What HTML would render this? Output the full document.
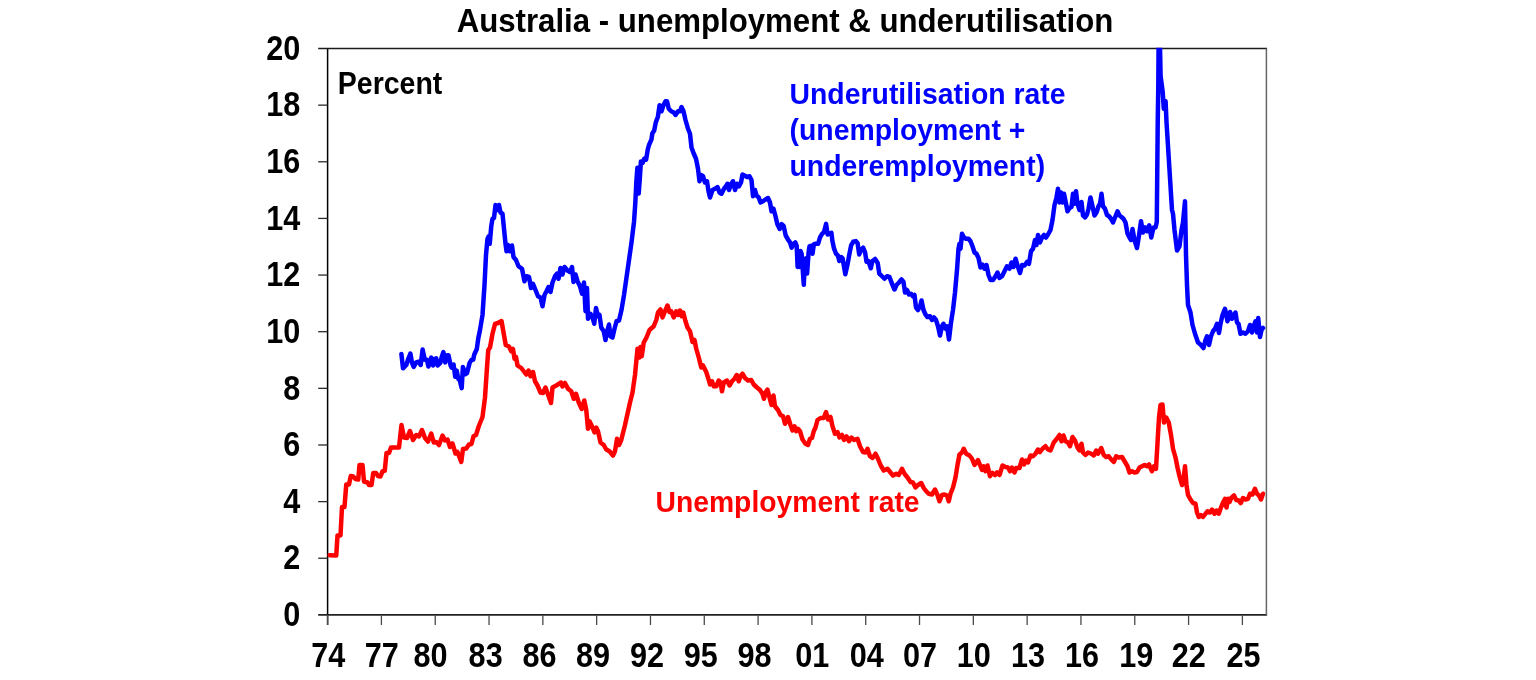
<!DOCTYPE html>
<html lang="en"><head><meta charset="utf-8"><title>Australia - unemployment &amp; underutilisation</title>
<style>
html,body{margin:0;padding:0;background:#fff;}
body{width:1536px;height:680px;overflow:hidden;}
svg{display:block;}
text{font-family:"Liberation Sans",sans-serif;font-weight:bold;}
</style></head><body>
<svg width="1536" height="680" viewBox="0 0 1536 680">
<rect width="1536" height="680" fill="#fff"/>
<defs><clipPath id="plot"><rect x="326" y="47.8" width="941" height="568"/></clipPath></defs>
<text transform="translate(785,32.1) scale(1,1.07)" font-size="31.2" text-anchor="middle" fill="#000">Australia - unemployment &amp; underutilisation</text>
<g stroke="#000" stroke-width="1.5" fill="none">
<line x1="327.6" y1="47.9" x2="327.6" y2="625"/>
<line x1="318.2" y1="614.9" x2="1267.1000000000001" y2="614.9" stroke-width="1.75" stroke="#222"/>
<line x1="318.2" y1="48.5" x2="1267.1000000000001" y2="48.5" stroke-width="1.35" stroke="#1a1a1a"/>
</g>
<g stroke="#2a2a2a" stroke-width="1.3" fill="none">
<line x1="318.2" y1="558.26" x2="327.6" y2="558.26"/>
<line x1="318.2" y1="501.62" x2="327.6" y2="501.62"/>
<line x1="318.2" y1="444.98" x2="327.6" y2="444.98"/>
<line x1="318.2" y1="388.34" x2="327.6" y2="388.34"/>
<line x1="318.2" y1="331.7" x2="327.6" y2="331.7"/>
<line x1="318.2" y1="275.06" x2="327.6" y2="275.06"/>
<line x1="318.2" y1="218.42" x2="327.6" y2="218.42"/>
<line x1="318.2" y1="161.78" x2="327.6" y2="161.78"/>
<line x1="318.2" y1="105.14" x2="327.6" y2="105.14"/>
</g>
<g stroke="#4a4a4a" stroke-width="1.3" fill="none">
<line x1="327.6" y1="614.9" x2="327.6" y2="625"/>
<line x1="381.411" y1="614.9" x2="381.411" y2="625"/>
<line x1="435.222" y1="614.9" x2="435.222" y2="625"/>
<line x1="489.033" y1="614.9" x2="489.033" y2="625"/>
<line x1="542.844" y1="614.9" x2="542.844" y2="625"/>
<line x1="596.655" y1="614.9" x2="596.655" y2="625"/>
<line x1="650.466" y1="614.9" x2="650.466" y2="625"/>
<line x1="704.277" y1="614.9" x2="704.277" y2="625"/>
<line x1="758.088" y1="614.9" x2="758.088" y2="625"/>
<line x1="811.899" y1="614.9" x2="811.899" y2="625"/>
<line x1="865.71" y1="614.9" x2="865.71" y2="625"/>
<line x1="919.521" y1="614.9" x2="919.521" y2="625"/>
<line x1="973.332" y1="614.9" x2="973.332" y2="625"/>
<line x1="1027.14" y1="614.9" x2="1027.14" y2="625"/>
<line x1="1080.95" y1="614.9" x2="1080.95" y2="625"/>
<line x1="1134.77" y1="614.9" x2="1134.77" y2="625"/>
<line x1="1188.58" y1="614.9" x2="1188.58" y2="625"/>
<line x1="1242.39" y1="614.9" x2="1242.39" y2="625"/>
</g>
<line x1="1266.4" y1="48.5" x2="1266.4" y2="614.9" stroke="#666" stroke-width="1.5"/>
<g clip-path="url(#plot)" fill="none" stroke-linejoin="round" stroke-linecap="round" stroke-width="4.5">
<polyline stroke="#0000ff" points="401.4,353.9 403,368.3 406.3,365 407.9,359.8 410.4,353.5 412,362.9 413.7,367 416.1,362.4 418.5,361.7 420.7,365 422.6,349.5 424.8,359.8 426.9,359.8 428.4,366.5 431.2,357.6 433.1,365.5 434.9,358.8 436.2,358.3 437.7,365.5 440.3,362.9 441.8,356.7 443.4,352.1 445.2,362.4 447,355.2 448.5,355.2 450.6,365.5 451.6,367.6 453.6,364.5 455.2,376.8 456.7,370.6 458.3,378.9 459.8,380.4 461.7,388.1 462.9,367 465.5,374.2 467,373.2 469.6,362.9 471.6,359.8 473.2,359.8 474.2,354.7 476.8,349 478.3,338.2 480,330 482.5,315 484.5,285 486,255 487.5,238.75 488.75,236.25 489.75,243.75 491.25,226.25 492.5,218.75 494,218 495.5,205 497.5,210 499,205 500.5,212.5 502.5,213.75 504,228.75 505.5,243.75 506.5,251.25 508,245 510,251.25 512,245.5 513.5,257 516,260 518.5,266.25 522,268.75 524.5,281.25 526.5,276.25 529,277 531,288 533,283.75 535.5,290 538,296.25 540.5,297.5 542.5,306.25 544.5,295 546.5,291.25 548.5,287 550.5,292 552.5,282.5 555,276.25 557,273.75 558.5,278.75 560.5,268 562.5,274.5 564.5,267 567.5,270.5 570,272 572,267 573.5,282 575.5,274.5 577.5,281.25 580,286.25 582,293.75 584,282.5 585.5,311.25 587,288 588,318.75 590.5,313.75 592.5,317.5 594.25,323.75 596,308 598,316.25 599.5,315 601.25,327.5 603.75,331.25 605.5,340 607.5,330 609,324.5 610.5,336.25 612.5,337.5 614.5,328.75 616.5,321.25 619,320.5 621.5,310 624,295 626.5,277.5 629,260 631.5,242.5 634,222 635.3,203 636.4,181 637.4,167.7 638.7,193.6 639.7,180 640.9,161.5 642.6,162.8 644.2,158.8 646.1,159.6 647.7,149.9 649,145 651.5,139.4 652.3,133.4 654.2,130.5 655.8,122.4 657.9,116.7 659.6,105.2 661.5,111.25 663.5,105 665.5,101.25 667,101.25 668.75,108.75 671.25,111.25 673.75,112.5 675.5,115 678,111.25 680,111.25 681.5,107 683.5,111.25 685.5,120 688,128.75 690,133.75 691.5,147.5 693.5,153 696,158.75 698,168.75 699.5,181.25 701,175 703,176.25 705,182.5 707,181.25 708.5,191.25 710,197.5 712.5,190 715,188.75 717.5,187 719.5,192.5 721.5,193.75 724,188.75 726,186.25 727.5,183.75 729,190 731,184.5 733,181.25 735,190 737,183.75 739,186.25 741,182.5 742.5,174.5 744.5,175.5 747,177 749.5,176.25 751.5,180 753,196.25 755,190 756.5,195.5 758.75,197.5 760.5,202.5 763,201.25 765.5,199.5 768,198 770,202.5 771.5,211.25 773.5,208.75 775.5,216.25 777.3,224 779.7,228.9 781.7,224.2 783.7,226.2 785.7,235.5 788.3,240 790,242.4 791.6,247.7 793.6,243.8 795.3,242.4 796.7,245.8 797.6,267 798.6,253.7 799.3,267 800.6,251 801.6,253.7 803.8,284.8 804.9,259 805.9,258.3 807.1,273.6 808.6,252.4 809.5,246.4 810.8,245.8 812.5,253.7 813.9,244.2 815.7,243.8 818.1,243.8 820.1,237.1 822.1,233.8 824.1,231.9 826.1,223.9 827.6,234.5 829.4,233.6 831.4,232.8 832.4,241.1 834,248.4 836,253.7 838,255.7 839.3,261 841.3,257 842.6,258.3 845.3,274.2 847.3,265.6 849.2,255 851.2,245.1 853.2,241.8 855.9,241.1 857.6,243.1 859.2,254.4 861.2,249.7 863.1,247.7 865.1,252.4 866.5,261.7 868.4,261 870.8,268.3 872.4,261 875.1,259 877.7,263 879.3,273.6 882,276.25 884.5,278.75 887,276.25 889.5,277 892,283.75 894.5,289.5 896.5,285 899,282.5 901.5,279.5 903.5,282 905,292.5 907,290 909,294.5 911,293.75 913,296.25 914.5,295 916,307.5 918,310 920,306.25 921.5,300.5 923.5,310 925.5,314.5 927.5,317 930,316.25 932,320 934,317.5 936,320 938,326.25 940,335.5 942,326.25 943.5,323.75 945.5,328.75 947,326.25 949,339.5 951,322.5 953,310 955,292.5 957,270 958.5,248.75 959.5,243.75 960.5,248.75 962,233.75 964,237.5 966,238.75 968.5,238.75 970.5,241.25 972.5,246.25 974.5,252.5 976.5,253.75 978.5,258 980.5,267.5 982.5,264.5 984.5,268.75 986.5,265 988.5,275 990.5,280 993,280 995.5,276.25 997.5,272.5 999.5,278 1002,276.25 1004.5,271.25 1007,266.25 1009.5,268.75 1011.5,262.5 1013.5,267 1015.5,258.75 1017.5,265.5 1020,273 1022,265 1024.5,265.5 1027,262 1029,263.75 1031,251.25 1033,248.75 1035,240 1036.5,245 1038,235 1040,242.5 1042,237.5 1044,235 1046,237.5 1048,234.5 1050.5,230 1052.5,220 1054.5,205 1056.5,197.5 1058,188.75 1059.5,202.5 1061,192.5 1062.5,202.5 1064,193.75 1065.5,201.25 1067.5,211.25 1069.5,208 1071.5,207 1073,193.75 1074.5,203.75 1076,191.25 1077.5,203.75 1079.5,210 1081.5,202 1083,215.5 1085,217.5 1087,214.5 1088.5,208.75 1090.5,197.5 1092.5,206.25 1094.5,215.5 1096.5,212.5 1098.5,206.25 1100,203.75 1101.5,193.75 1103,206.25 1105,208.75 1107,215 1109,216.25 1111,218.75 1113,222.5 1115,217.5 1117.5,211.25 1119.5,215.5 1121.5,217 1123.5,218.75 1125.5,222.5 1127.5,233.5 1129.5,237.5 1131,240 1132.5,229 1134.5,240 1137,248 1139,235.5 1141,221.25 1143,232.5 1145,227.25 1147,231.25 1149.25,225.25 1151.25,237.5 1153.5,227.5 1155.5,227.5 1156.8,222 1156.9,210 1157.7,125 1158.3,85 1158.6,42 1159.9,42 1160.6,76 1162.7,92 1163.8,108.8 1165.6,101.3 1166.5,122 1172,210 1173,213.75 1174.5,230 1177,250.5 1179.5,246.25 1181.5,230 1183,222.5 1185,201.25 1186,255 1187,285 1188,305 1190.5,312.5 1192.5,325 1195,333.75 1198,342.5 1200.5,344.5 1203.5,348 1205.5,340 1207,336.25 1209,345 1211,336.25 1213,331.25 1215,328.75 1217,323.75 1219,333 1220.5,323.75 1222.5,315 1225,308.75 1227.5,321.25 1230,312 1232,318.75 1234,315 1235.5,312.5 1237,322.5 1238.5,323.75 1240.5,333.75 1243,332.5 1245.5,333.75 1248,331.25 1250,325 1252,332.5 1254,325 1255.5,321.25 1257,332.5 1258.25,318 1260,337 1261.5,330 1263,328"/>
<polyline stroke="#ff0000" points="329.6,555.3 336.25,555.5 337.5,535.5 340.5,535.5 342,507 344.5,507 346.25,484.5 349,484.5 350.75,476 353.25,476.5 355.5,479 358.25,479.5 359.5,465 362.5,465 364,481.5 367.5,482.5 369,485 371.5,485 373.25,473 376,473 378,476 380.5,476.5 382.5,471.25 384.75,470.75 386.5,453 389,453 391,447.5 399,447.5 401.5,425 404,437.5 407,438 410,431 413,440 416.25,435 419,436.5 422,430 425,438 428,441.5 431.25,433.5 433.75,442.5 436.25,442 439,445 442.5,435.5 445,440.5 447.5,439.5 450,447 452.5,443.5 455.5,453.5 457.5,452 461.25,462 463,449 466.25,448.5 469,444.5 471.5,444 473.5,436.25 476,435 478.75,426.25 482.5,417 485,397.5 487,367.5 488.25,350 490,347.5 492.5,333.75 495,324 498,323 501.5,321 503.75,333.75 505.75,345 509,346.5 511.25,351.25 513,349 514.5,358.75 516,357 517.5,365.5 521.25,368 523.75,371.25 526.25,374.5 528.5,370.5 530.5,376.25 533,372 535,381.25 537.5,385.5 540.5,392.5 543,393 545.5,387.5 548,394.5 551,403 552.5,387.5 556.25,385.5 561,382.5 562.5,386.5 565,383 568,388.75 571.25,391.25 573.75,398.75 576,393.75 578.75,402.5 581.75,409 584.25,400.5 586.25,410 588,428.75 589.5,421.25 592,426.25 594.5,432.5 596.25,427.5 598,431.25 600.5,442.5 603.75,445 606.25,449.5 609.5,451.25 613,455.5 615,451.25 617,438.75 619,445 621.25,440 625,425 630,402.5 632.5,392.5 635,375 637.5,348.75 639.5,357.5 640.5,347 641.75,356.25 643.75,342.5 646.25,338 649.5,330 653.75,326.25 656.25,320 658,312.5 660.5,309.5 662.5,317.5 665,311.25 667.5,305.5 669.5,312 671.25,311.25 673.75,317.5 676.25,311.25 678,315 680,310.5 681.75,316.25 683.25,312.5 685.5,321.25 687.5,327.5 690,331.25 692.5,342 694.5,340 696.25,348.75 698.75,357.5 701.25,367.5 703,365.5 706.25,372 708,377.5 710,384.5 712,381.25 713.75,386.25 716.25,386.25 718.75,380.5 720.5,382.5 722,391.25 723.75,382.5 727,380.5 729.5,385.5 732,381.25 734.5,378.75 736.75,375 738.75,381.25 740.5,376.25 742.5,373.75 745,378 748,380.5 751.25,380 753.75,384.5 757,387.5 760,390 762.5,393.75 764,398.75 765.5,392.5 767.5,389.5 769.5,397.5 771.5,405 773.5,395.5 775,406.25 778,410 780.5,415 783,416.25 785,423.75 788,417 790.5,425 792.5,430.5 794.5,426.25 796.25,431.25 798,428.75 800,431.25 802.5,439.5 805.5,443.75 808,445 810,438.75 812,438 813.75,431.25 815.5,427.5 817.5,420 820.5,418 823.75,418 826,412 828,419.5 830.5,417 832.5,426.25 835,433.75 837.5,432 839.5,437.5 842,435 844,440 846.5,436.25 849,441.25 851.5,437.5 854,440 857.5,438.75 860,446.25 863,452 865.5,452.5 867.5,448.75 870,456.25 872.5,458 875.5,453.75 878,458.75 880.5,465 883.75,470.5 887.5,468.75 890.5,472.5 893,475.5 896.25,473.75 898.75,475 902,468.75 904.5,473.75 907.5,477.5 910.5,482 913,482.5 915.5,487.5 918,485 921.25,483 923.75,488 926.25,491.25 928.75,493.75 932,494.5 935,489.5 937.5,495 939.5,501.25 942,495 944.5,494.5 947,495.5 948.75,501.25 950.5,493.75 953,487.5 955.5,477.5 957.5,465 959.5,454.5 962,452.5 963.75,448.75 966.25,453.75 969.5,455.5 972,458.75 974.5,465 978,460 980.5,466.25 982,470 983.75,466.25 985.5,471.25 987.5,465.5 990,476.25 992.5,473 995,475 997,472.5 999.5,475 1002.5,465.5 1005.5,467 1008,467.5 1010,471.25 1012,467.5 1014.5,472.5 1016.25,468 1019.5,468 1022,459.5 1024,464.5 1026,460.5 1028,462.5 1030.5,455.5 1033,456.25 1035.5,453.75 1038,449.5 1040,452 1042.5,448.75 1045.5,446.25 1048,449.5 1050.5,450.5 1053.75,442.5 1056.25,439.5 1059.5,435 1061.5,441.25 1063.5,435.5 1065.5,441.25 1068,442.5 1070,446.25 1072.5,437 1075,440.5 1077.5,447.5 1079.5,450.5 1081.5,443.75 1083,452.5 1085.5,455 1088,452.5 1091.25,453.75 1093.75,455.5 1096.25,450.5 1098,453.75 1101.25,448 1103.75,455 1106.25,457 1108.75,456.25 1111.25,459.5 1113.75,462 1116.25,456.25 1118.75,457.5 1122,457 1125,462 1127.5,466.25 1129.5,472.5 1132,471.25 1134.5,472.5 1137,472 1139.5,467.5 1142,466.25 1144.5,465 1147,466.25 1149,464.5 1152,471.25 1154,466.25 1156,468.75 1157.5,443 1159,417.5 1160.5,405 1162.5,404.5 1164,422.5 1166.25,417.5 1168.75,422.5 1171,435 1173,448.75 1175.5,457.5 1177.5,467.5 1179.5,476.25 1182,485 1183.5,480 1185,466.25 1186.5,485 1188,495 1190.5,499.5 1193,503 1195.5,503.75 1197,512.5 1198.75,517 1201,515 1203,517 1205.5,513.75 1207.5,511.25 1210,512.5 1212,509.5 1214.5,513.75 1216.5,510.5 1218.75,513.75 1220.5,508.75 1223,502.5 1225,498.75 1226.5,507.5 1228,498.75 1229.5,502 1231.25,498 1234,495.5 1236.25,500 1238.75,500.5 1240.75,503 1243,498 1245.5,499.5 1248,498.75 1250,493.75 1252.5,494.5 1255,488.75 1257,493.75 1259,495.5 1261,499.5 1263,493.75"/>
</g>
<text transform="translate(300.3,626.1) scale(1,1.17)" font-size="30.6" text-anchor="end" fill="#000">0</text>
<text transform="translate(300.3,569.46) scale(1,1.17)" font-size="30.6" text-anchor="end" fill="#000">2</text>
<text transform="translate(300.3,512.82) scale(1,1.17)" font-size="30.6" text-anchor="end" fill="#000">4</text>
<text transform="translate(300.3,456.18) scale(1,1.17)" font-size="30.6" text-anchor="end" fill="#000">6</text>
<text transform="translate(300.3,399.54) scale(1,1.17)" font-size="30.6" text-anchor="end" fill="#000">8</text>
<text transform="translate(300.3,342.9) scale(1,1.17)" font-size="30.6" text-anchor="end" fill="#000">10</text>
<text transform="translate(300.3,286.26) scale(1,1.17)" font-size="30.6" text-anchor="end" fill="#000">12</text>
<text transform="translate(300.3,229.62) scale(1,1.17)" font-size="30.6" text-anchor="end" fill="#000">14</text>
<text transform="translate(300.3,172.98) scale(1,1.17)" font-size="30.6" text-anchor="end" fill="#000">16</text>
<text transform="translate(300.3,116.34) scale(1,1.17)" font-size="30.6" text-anchor="end" fill="#000">18</text>
<text transform="translate(300.3,59.7) scale(1,1.17)" font-size="30.6" text-anchor="end" fill="#000">20</text>
<text transform="translate(328.3,666.6) scale(1,1.17)" font-size="30.6" text-anchor="middle" fill="#000">74</text>
<text transform="translate(381.811,666.6) scale(1,1.17)" font-size="30.6" text-anchor="middle" fill="#000">77</text>
<text transform="translate(430.622,666.6) scale(1,1.17)" font-size="30.6" text-anchor="middle" fill="#000">80</text>
<text transform="translate(485.633,666.6) scale(1,1.17)" font-size="30.6" text-anchor="middle" fill="#000">83</text>
<text transform="translate(539.444,666.6) scale(1,1.17)" font-size="30.6" text-anchor="middle" fill="#000">86</text>
<text transform="translate(593.055,666.6) scale(1,1.17)" font-size="30.6" text-anchor="middle" fill="#000">89</text>
<text transform="translate(647.066,666.6) scale(1,1.17)" font-size="30.6" text-anchor="middle" fill="#000">92</text>
<text transform="translate(700.777,666.6) scale(1,1.17)" font-size="30.6" text-anchor="middle" fill="#000">95</text>
<text transform="translate(754.588,666.6) scale(1,1.17)" font-size="30.6" text-anchor="middle" fill="#000">98</text>
<text transform="translate(812.199,666.6) scale(1,1.17)" font-size="30.6" text-anchor="middle" fill="#000">01</text>
<text transform="translate(866.71,666.6) scale(1,1.17)" font-size="30.6" text-anchor="middle" fill="#000">04</text>
<text transform="translate(920.021,666.6) scale(1,1.17)" font-size="30.6" text-anchor="middle" fill="#000">07</text>
<text transform="translate(973.832,666.6) scale(1,1.17)" font-size="30.6" text-anchor="middle" fill="#000">10</text>
<text transform="translate(1027.99,666.6) scale(1,1.17)" font-size="30.6" text-anchor="middle" fill="#000">13</text>
<text transform="translate(1082.05,666.6) scale(1,1.17)" font-size="30.6" text-anchor="middle" fill="#000">16</text>
<text transform="translate(1136.22,666.6) scale(1,1.17)" font-size="30.6" text-anchor="middle" fill="#000">19</text>
<text transform="translate(1188.83,666.6) scale(1,1.17)" font-size="30.6" text-anchor="middle" fill="#000">22</text>
<text transform="translate(1243.39,666.6) scale(1,1.17)" font-size="30.6" text-anchor="middle" fill="#000">25</text>
<text transform="translate(337.8,94.3) scale(1,1.07)" font-size="28.5" text-anchor="start" fill="#000">Percent</text>
<text transform="translate(789.5,103.85) scale(1,1.07)" font-size="28.4" text-anchor="start" fill="#0000ff">Underutilisation rate</text>
<text transform="translate(789.5,139.6) scale(1,1.07)" font-size="28.4" text-anchor="start" fill="#0000ff">(unemployment +</text>
<text transform="translate(789.5,176) scale(1,1.07)" font-size="28.4" text-anchor="start" fill="#0000ff">underemployment)</text>
<text transform="translate(655.5,511.75) scale(1,1.055)" font-size="28.3" text-anchor="start" fill="#ff0000">Unemployment rate</text>
</svg>
</body></html>
